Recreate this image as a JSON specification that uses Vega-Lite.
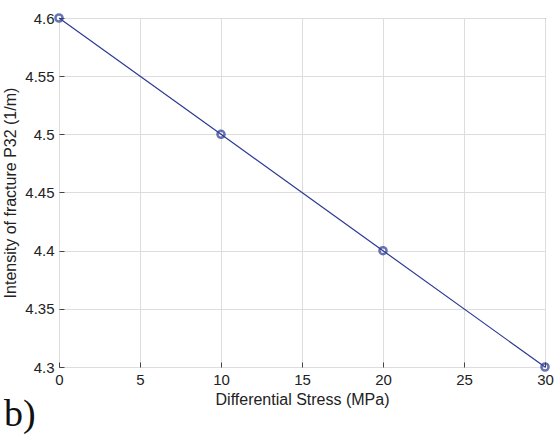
{
  "$schema": "https://vega.github.io/schema/vega-lite/v6.json",
  "width": 486,
  "height": 349,
  "autosize": "none",
  "padding": {"left": 59, "top": 18, "right": 14, "bottom": 71},
  "background": "white",
  "config": {"view": {"stroke": "#444", "strokeWidth": 1}},
  "title": {"text": "b)", "orient": "bottom", "anchor": "start", "frame": "group", "font": "Liberation Serif", "fontSize": 38, "fontWeight": "normal", "color": "#111", "dx": -55, "offset": -11, "baseline": "top"},
  "data": {"values": [
    {"stress": 0, "p32": 4.6},
    {"stress": 10, "p32": 4.5},
    {"stress": 20, "p32": 4.4},
    {"stress": 30, "p32": 4.3}
  ]},
  "encoding": {
    "x": {"field": "stress", "type": "quantitative", "scale": {"domain": [0, 30], "nice": false},
      "axis": {"title": "Differential Stress (MPa)", "values": [0,5,10,15,20,25,30], "labelFlush": false, "titleFont": "Liberation Sans", "labelFont": "Liberation Sans", "titleFontSize": 16, "labelFontSize": 15, "titleFontWeight": "normal", "labelColor": "#222", "titleColor": "#222", "gridColor": "#ddd", "domain": false, "tickSize": -5, "tickColor": "#444", "labelPadding": 10, "titlePadding": 4}},
    "y": {"field": "p32", "type": "quantitative", "scale": {"domain": [4.3, 4.6], "nice": false, "zero": false},
      "axis": {"title": "Intensity of fracture P32 (1/m)", "format": ".3~g", "labelFlush": false, "values": [4.3,4.35,4.4,4.45,4.5,4.55,4.6], "titleFont": "Liberation Sans", "labelFont": "Liberation Sans", "titleFontSize": 16, "labelFontSize": 15, "titleFontWeight": "normal", "labelColor": "#222", "titleColor": "#222", "gridColor": "#ddd", "domain": false, "tickSize": -5, "tickColor": "#444", "labelPadding": 10, "titlePadding": 6}}
  },
  "layer": [
    {"mark": {"type": "line", "color": "#2b3a96", "strokeWidth": 1.2}},
    {"mark": {"type": "point", "shape": "circle", "size": 50, "color": "#2b3a96", "strokeWidth": 2.5, "filled": false}}
  ]
}
